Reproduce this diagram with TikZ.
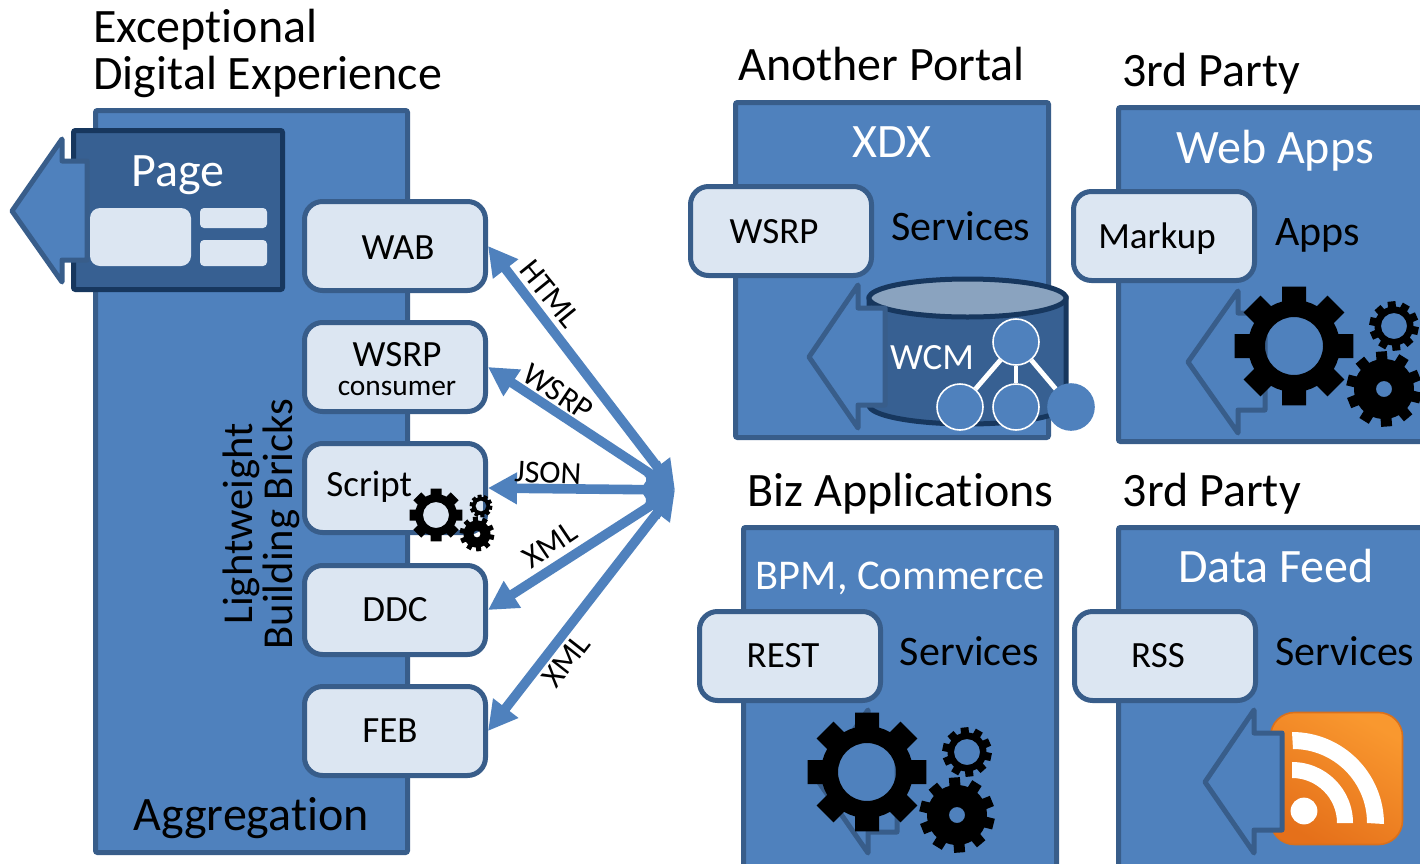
\documentclass[tikz,border=0pt]{standalone}
\usepackage{fontspec}
\setmainfont[Ligatures=NoCommon]{Carlito}
\usetikzlibrary{arrows.meta}
\definecolor{pfill}{HTML}{4F81BD}
\definecolor{pline}{HTML}{385D8A}
\definecolor{dfill}{HTML}{376092}
\definecolor{dline}{HTML}{17375E}
\definecolor{lfill}{HTML}{DCE6F2}
\definecolor{ctop}{HTML}{8AA3BF}
\definecolor{rssa}{HTML}{F9982F}
\definecolor{rssb}{HTML}{E5701A}
\definecolor{rssl}{HTML}{D9701C}
\tikzset{
  x=0.5pt,y=-0.5pt,
  panel/.style={draw=pline,fill=pfill,line width=2.5pt,inner sep=0pt,rounded corners=1pt},
  dpanel/.style={draw=dline,fill=dfill,line width=2.5pt,inner sep=0pt,rounded corners=1pt},
  bbox/.style={draw=pline,fill=lfill,line width=2.5pt,inner sep=0pt,rounded corners=9pt},
  minibox/.style={fill=lfill,draw=none,inner sep=0pt},
  bigarrow/.style={draw=pline,fill=pfill,line width=2.5pt,line join=round},
  txt/.style={anchor=base,inner sep=0pt,text=black},
  wtxt/.style={anchor=base,inner sep=0pt,text=white},
  ltxt/.style={anchor=base west,inner sep=0pt,text=black},
  link/.style={draw=pfill,line width=4.8pt,{Triangle[length=14.5pt,width=15pt]}-{Triangle[length=14.5pt,width=15pt]}},
  treenode/.style={circle,draw=white,fill=pfill,line width=0.8pt,minimum size=23pt,inner sep=0pt},
  treeedge/.style={draw=white,line width=2.4pt},
}
\newcommand{\fs}[1]{\fontsize{#1pt}{#1pt}\selectfont}
% name, x1, y1, x2, y2, style: outer pixel box
\newcommand{\pbox}[6]{\node[#6,minimum width={(#4-#2-5)*0.5pt},minimum height={(#5-#3-5)*0.5pt}] (#1) at ({(#2+#4)/2},{(#3+#5)/2}) {};}
% cx, cy, outer, root, hole, teeth, tooth width, rotation
\newcommand{\mygear}[8]{%
  \begin{scope}[shift={(#1,#2)}]
  \pgfmathsetmacro{\dOut}{asin(#7/2/#3)}
  \pgfmathsetmacro{\dRoot}{asin(#7/2/#4)}
  \pgfmathsetmacro{\stepA}{360/#6}
  \pgfmathtruncatemacro{\lastT}{#6-1}
  \fill[black,even odd rule] (#8-\dRoot:#4)
    \foreach \i in {0,...,\lastT}{
      -- ({#8+\i*\stepA-\dRoot}:#4)
      -- ({#8+\i*\stepA-\dOut}:#3)
      -- ({#8+\i*\stepA+\dOut}:#3)
      -- ({#8+\i*\stepA+\dRoot}:#4)
      -- ({#8+\i*\stepA+\stepA/2}:#4)
    } -- cycle (0,0) circle[radius={#5*0.5pt}];
  \end{scope}}
% tip x, tip y, head x, head top y, shaft top y, shaft right x, shaft bottom y, head bottom y
\newcommand{\barrow}[8]{\draw[bigarrow] (#1,#2) -- (#3,#4) -- (#3,#5) -- (#6,#5) -- (#6,#7) -- (#3,#7) -- (#3,#8) -- cycle;}
\begin{document}
\begin{tikzpicture}
\clip (0,0) rectangle (1420,863);
\fill[white] (0,0) rectangle (1420,863);

% ---- left column
\pbox{aggr}{93}{108}{410}{855}{panel}
\pbox{page}{71}{128}{285}{292}{dpanel}
\barrow{12}{211}{62}{139}{161}{87}{260}{282}
\pbox{pagea}{87.5}{205.5}{193.5}{268.5}{minibox,rounded corners=5pt}
\pbox{pageb}{197.5}{205.5}{269.5}{230.5}{minibox,rounded corners=2pt}
\pbox{pagec}{197.5}{237.5}{269.5}{268.5}{minibox,rounded corners=2pt}
\node[wtxt,font=\fs{24}] (pagel) at (178,186) {Page};

\node[ltxt,font=\fs{24}] (t1) at (93,42) {Exceptional};
\node[ltxt,font=\fs{24}] (t2) at (93,89.5) {Digital Experience};
\node[ltxt,font=\fs{24}] (aggl) at (133,830) {Aggregation};

\pbox{wab}{302}{199}{488}{293}{bbox}
\pbox{wsrpc}{302}{320}{488}{414}{bbox}
\pbox{script}{302}{441}{488}{535}{bbox}
\pbox{ddc}{302}{563}{488}{657}{bbox}
\pbox{feb}{302}{684}{488}{778}{bbox}

\node[txt,font=\fs{18.5}] (wabl) at (398,259) {WAB};
\node[txt,font=\fs{18.5}] (wsrpl) at (397,366) {WSRP};
\node[txt,font=\fs{14.7}] (consl) at (397,395) {consumer};
\node[ltxt,font=\fs{18.5}] (scrl) at (326,496) {Script};
\node[txt,font=\fs{18.5}] (ddcl) at (395,621) {DDC};
\node[txt,font=\fs{18.5}] (febl) at (390,742) {FEB};

\node[font=\fs{21.3},align=center,rotate=90,inner sep=0pt,text=black,text depth=0pt] (lbb) at (258,524) {Lightweight\\[-1.5pt]Building Bricks};

\mygear{436}{515}{27}{21}{13}{8}{11}{0}
\mygear{481}{506}{11.5}{9}{5.5}{10}{4}{10}
\mygear{477}{534}{17.5}{13.5}{3.5}{10}{5}{12}

% ---- links
\coordinate (hub) at (675,490);
\draw[link] (wab.east) -- (hub);
\draw[link] (wsrpc.east) -- (hub);
\draw[link] (script.east) -- (hub);
\draw[link] (ddc.east) -- (hub);
\draw[link] (feb.east) -- (hub);
\node[font=\fs{16},rotate=-51,inner sep=0pt,text=black] (lhtml) at (550,294) {HTML};
\node[font=\fs{16},rotate=-34,inner sep=0pt,text=black] (lwsrp) at (558,392) {WSRP};
\node[font=\fs{16},rotate=-3,inner sep=0pt,text=black] (ljson) at (548,473) {JSON};
\node[font=\fs{16},rotate=34,inner sep=0pt,text=black] (lxmla) at (550,545) {XML};
\node[font=\fs{16},rotate=52,inner sep=0pt,text=black] (lxmlb) at (566,661) {XML};

% ---- Another Portal
\node[ltxt,font=\fs{24}] (t3) at (738,80.5) {Another Portal};
\pbox{portal}{733}{100}{1051}{440}{panel}
\draw[draw=dline,fill=dfill,line width=2.5pt] (869,298) -- (869,405) arc[start angle=180,end angle=360,x radius=49.25pt,y radius=9.5pt] -- (1066,298) -- cycle;
\draw[draw=dline,fill=ctop,line width=2.5pt] (967.5,298) ellipse[x radius=49.25pt,y radius=9.5pt];
\barrow{809}{357}{858}{285}{308}{885}{405}{428}
\pbox{wsrpb}{688}{184}{874}{278}{bbox}
\node[wtxt,font=\fs{24}] (xdx) at (892,157) {XDX};
\node[ltxt,font=\fs{21}] (svc1) at (891,240) {Services};
\node[txt,font=\fs{18.5}] (wsrpbl) at (774,243) {WSRP};
\node[wtxt,font=\fs{18.5}] (wcm) at (932,369) {WCM};
\node[treenode] (t0) at (1016,342) {};
\node[treenode] (ta) at (960,407) {};
\node[treenode] (tb) at (1016,407) {};
\node[treenode,draw=pfill] (tc) at (1071,407) {};
\draw[treeedge] (t0) -- (ta);
\draw[treeedge] (t0) -- (tb);
\draw[treeedge] (t0) -- (tc);

% ---- 3rd Party top
\node[ltxt,font=\fs{24}] (t4) at (1122,86) {3rd Party};
\pbox{third}{1116}{105}{1440}{444}{panel}
\barrow{1188}{362}{1238}{291}{313}{1265}{410}{433}
\pbox{markup}{1071}{189}{1257}{283}{bbox}
\node[wtxt,font=\fs{24}] (webapps) at (1275,163) {Web Apps};
\node[txt,font=\fs{18.5}] (markupl) at (1157,248) {Markup};
\node[ltxt,font=\fs{21}] (apps) at (1275,245.5) {Apps};
\mygear{1294}{346}{60.5}{46}{29}{8}{24}{0}
\mygear{1394}{326}{25}{19.5}{13}{10}{8}{12}
\mygear{1384}{389}{38}{30}{8}{10}{11}{14}

% ---- Biz Applications
\node[ltxt,font=\fs{24}] (t5) at (747,506.5) {Biz Applications};
\pbox{biz}{741}{525}{1059}{880}{panel}
\barrow{818}{781}{868}{710}{735}{897}{832}{853}
\pbox{rest}{697}{609}{883}{703}{bbox}
\node[wtxt,font=\fs{21.2}] (bpm) at (900,589) {BPM, Commerce};
\node[txt,font=\fs{18.5}] (restl) at (783,667.5) {REST};
\node[ltxt,font=\fs{21}] (svc2) at (899.5,665.5) {Services};
\mygear{867}{772}{60.5}{46}{29}{8}{24}{0}
\mygear{967}{752}{25}{19.5}{13}{10}{8}{12}
\mygear{957}{815}{38}{30}{8}{10}{11}{14}

% ---- 3rd Party bottom
\node[ltxt,font=\fs{24}] (t6) at (1122.5,506.5) {3rd Party};
\pbox{feed}{1116}{525}{1440}{880}{panel}
\node[rounded corners=12pt,draw=rssl,line width=0.8pt,inner sep=0pt,minimum width=66pt,minimum height=66pt,shading=axis,left color=rssa,right color=rssb,shading angle=-30] (rss) at (1336.5,778.5) {};
\fill[white] (1292,732) arc[start angle=90,end angle=0,radius=46pt] -- (1367,823) arc[start angle=0,end angle=90,radius=37pt] -- cycle;
\fill[white] (1292,762) arc[start angle=90,end angle=0,radius=30.5pt] -- (1337,823) arc[start angle=0,end angle=90,radius=22.5pt] -- cycle;
\fill[white] (1304,811) circle[radius=6.7pt];
\barrow{1205}{782}{1254}{710}{733}{1282}{830}{853}
\pbox{rssbox}{1072}{609}{1258}{703}{bbox}
\node[wtxt,font=\fs{24}] (feedl) at (1276,582.5) {Data Feed};
\node[txt,font=\fs{18.5}] (rssl2) at (1158,667.5) {RSS};
\node[ltxt,font=\fs{21}] (svc3) at (1275,665.5) {Services};
\end{tikzpicture}
\end{document}
